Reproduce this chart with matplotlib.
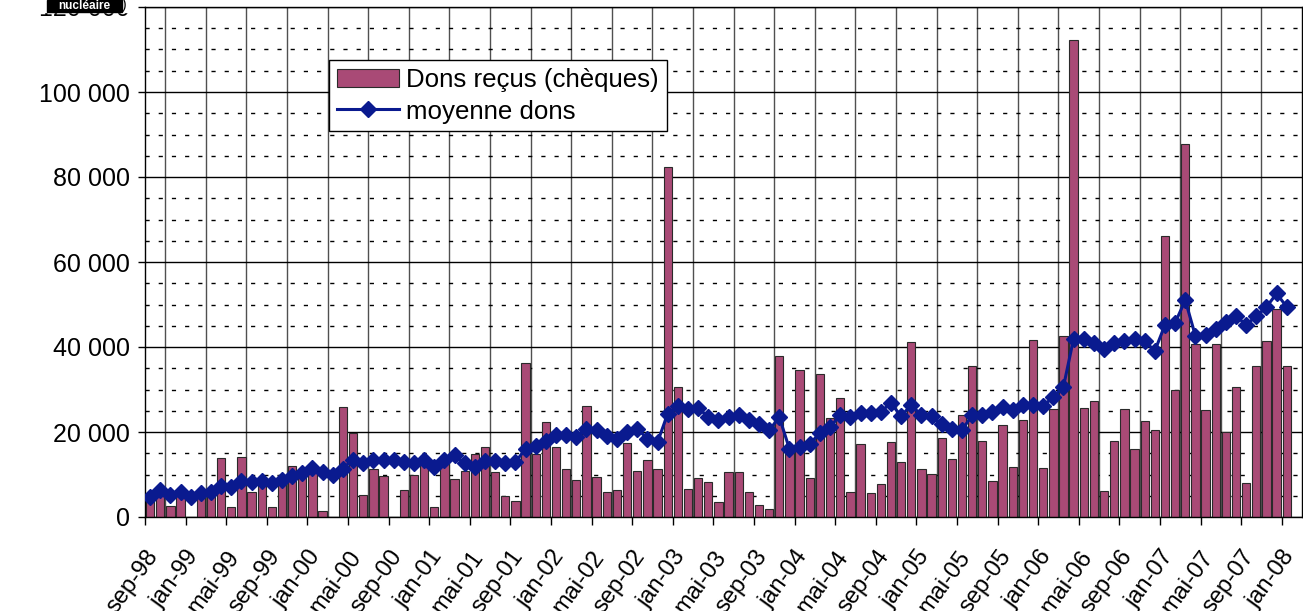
import numpy as np
import matplotlib
matplotlib.use('Agg')
import matplotlib.pyplot as plt
import matplotlib.transforms as mtransforms
from matplotlib.ticker import FixedLocator
from matplotlib.patches import Rectangle

plt.rcParams['font.family'] = ['Liberation Sans', 'DejaVu Sans']

# Data: monthly donations (sep-98 .. feb-08), None = no value
dons = [4200, 5100, 2700, 5000, 0, 5500, 5000, 13900, 2400, 14200,
        5900, 7900, 2400, 10000, 12100, 10500, 11500, 1400, 0, 25800,
        19700, 5200, 11200, 9700, 0, 6300, 10000, 14300, 2400, 12500,
        9000, 10900, 14900, 16500, 10600, 4900, 3700, 36200, 14900, 22300,
        16500, 11300, 8800, 26200, 9400, 5900, 6300, 17500, 10900, 13300,
        11200, 82400, 30500, 6700, 9200, 8300, 3500, 10600, 10600, 5800,
        2900, 1800, 37800, 16500, 34700, 9100, 33700, 23300, 28100, 5900,
        17200, 5700, 7800, 17700, 12900, 41200, 11200, 10100, 18600, 13700,
        23900, 35600, 17900, 8500, 21700, 11800, 22900, 41600, 11600, 25500,
        42600, 112300, 25600, 27200, 6100, 17800, 25400, 16000, 22500, 20500,
        66200, 30000, 87700, 40600, 25200, 40600, 20100, 30600, 7900, 35600,
        41400, 49000, 35600, None]

moyenne = [4800, 6300, 5100, 6000, 4800, 5600, 6000, 7400, 7000, 8500,
           8200, 8500, 8000, 8700, 9700, 10300, 11500, 10700, 10000, 11400,
           13500, 12600, 13300, 13500, 13300, 12900, 12600, 13300, 11700, 13300,
           14500, 12600, 11800, 13200, 13200, 12600, 12900, 16100, 16700, 17900,
           19300, 19300, 18800, 20800, 20400, 19000, 18400, 20000, 20800, 18400,
           17600, 24300, 26100, 25400, 25700, 23500, 22900, 23500, 24000, 22900,
           21800, 20400, 23500, 16000, 16500, 17200, 19800, 21100, 24000, 23500,
           24500, 24500, 24800, 26800, 23700, 26400, 23900, 23700, 21800, 20700,
           20500, 23900, 24000, 24800, 26000, 25200, 26400, 26400, 26200, 28200,
           30700, 42000, 41800, 41000, 39600, 41000, 41400, 41800, 41400, 39100,
           45200, 45700, 51000, 42600, 42900, 44300, 45800, 47300, 45200, 47300,
           49400, 52600, 49400, None]

tick_labels = ['sep-98', 'jan-99', 'mai-99', 'sep-99', 'jan-00', 'mai-00',
               'sep-00', 'jan-01', 'mai-01', 'sep-01', 'jan-02', 'mai-02',
               'sep-02', 'jan-03', 'mai-03', 'sep-03', 'jan-04', 'mai-04',
               'sep-04', 'jan-05', 'mai-05', 'sep-05', 'jan-06', 'mai-06',
               'sep-06', 'jan-07', 'mai-07', 'sep-07', 'jan-08']

y_values = [0, 20000, 40000, 60000, 80000, 100000, 120000]
y_labels = ['0', '20 000', '40 000', '60 000', '80 000', '100 000', '120 000']

dons_arr = np.array([np.nan if v is None else v for v in dons], dtype=float)
moy_arr = np.array([np.nan if v is None else v for v in moyenne], dtype=float)
x = np.arange(len(dons_arr))

fig = plt.figure(figsize=(13.03, 6.11), dpi=100)
ax = fig.add_axes([145 / 1303, 94 / 611, 1157 / 1303, 510 / 611])

bars = ax.bar(x, dons_arr, width=0.82, color='#A94A76', edgecolor='#2a2a2a',
              linewidth=0.8, label='Dons reçus (chèques)', zorder=2)
line, = ax.plot(x, moy_arr, color='#0A1A8F', lw=2.2, marker='D', ms=8,
                label='moyenne dons', zorder=3)

ax.set_xlim(-0.5, len(x) - 0.5)
ax.set_ylim(0, 120000)

# x axis: labels every 4 months on category boundaries, grid every 2
ax.xaxis.set_major_locator(FixedLocator(np.arange(len(tick_labels)) * 4 - 0.5))
ax.set_xticklabels(tick_labels, rotation=54, ha='right', va='top',
                   rotation_mode='anchor', fontsize=17)
shift = mtransforms.ScaledTranslation(-5 / 72, 0, fig.dpi_scale_trans)
for lab in ax.get_xticklabels():
    lab.set_transform(lab.get_transform() + shift)
ax.xaxis.set_minor_locator(FixedLocator(np.arange(0, len(x), 2) - 0.5))
ax.tick_params(axis='x', which='major', length=6, width=1, pad=15)
ax.tick_params(axis='x', which='minor', length=0)
ax.grid(True, axis='x', which='minor', color='#505050', lw=1)

# y axis
ax.set_yticks(y_values)
ax.set_yticklabels(y_labels, fontsize=18)
ax.yaxis.set_minor_locator(FixedLocator(np.arange(5000, 120000, 5000)))
ax.tick_params(axis='y', which='major', length=5, width=1, pad=6)
ax.tick_params(axis='y', which='minor', length=0)
ax.grid(True, axis='y', which='major', color='black', lw=1)
ax.grid(True, axis='y', which='minor', color='black', lw=1,
        linestyle=(0, (3, 6.5)))
ax.set_axisbelow(True)

for s in ax.spines.values():
    s.set_color('black')
    s.set_linewidth(1)

leg = ax.legend(handles=[bars, line], loc='upper left',
                bbox_to_anchor=(0.159, 0.896),
                borderaxespad=0, fontsize=18.6, handlelength=2.4,
                handletextpad=0.3, borderpad=0.3, labelspacing=0.3,
                fancybox=False, framealpha=1, edgecolor='black')
leg.get_frame().set_linewidth(1)

# logo fragment in the top left corner (covers the top tick label)
fig.patches.append(Rectangle((0, 1 - 12 / 611), 128 / 1303, 12 / 611,
                             transform=fig.transFigure, color='white', zorder=9))
fig.patches.append(Rectangle((47 / 1303, 1 - 12 / 611), 75 / 1303, 12 / 611,
                             transform=fig.transFigure, color='black', zorder=10))
fig.text(84 / 1303, 1 - 6 / 611, 'nucléaire', color='white', fontsize=8.5,
         fontweight='bold', ha='center', va='center', zorder=11)
fig.text(124 / 1303, 1 - 5 / 611, ')', color='black', fontsize=10,
         ha='center', va='center', zorder=11)

fig.savefig('out.png', dpi=100)
